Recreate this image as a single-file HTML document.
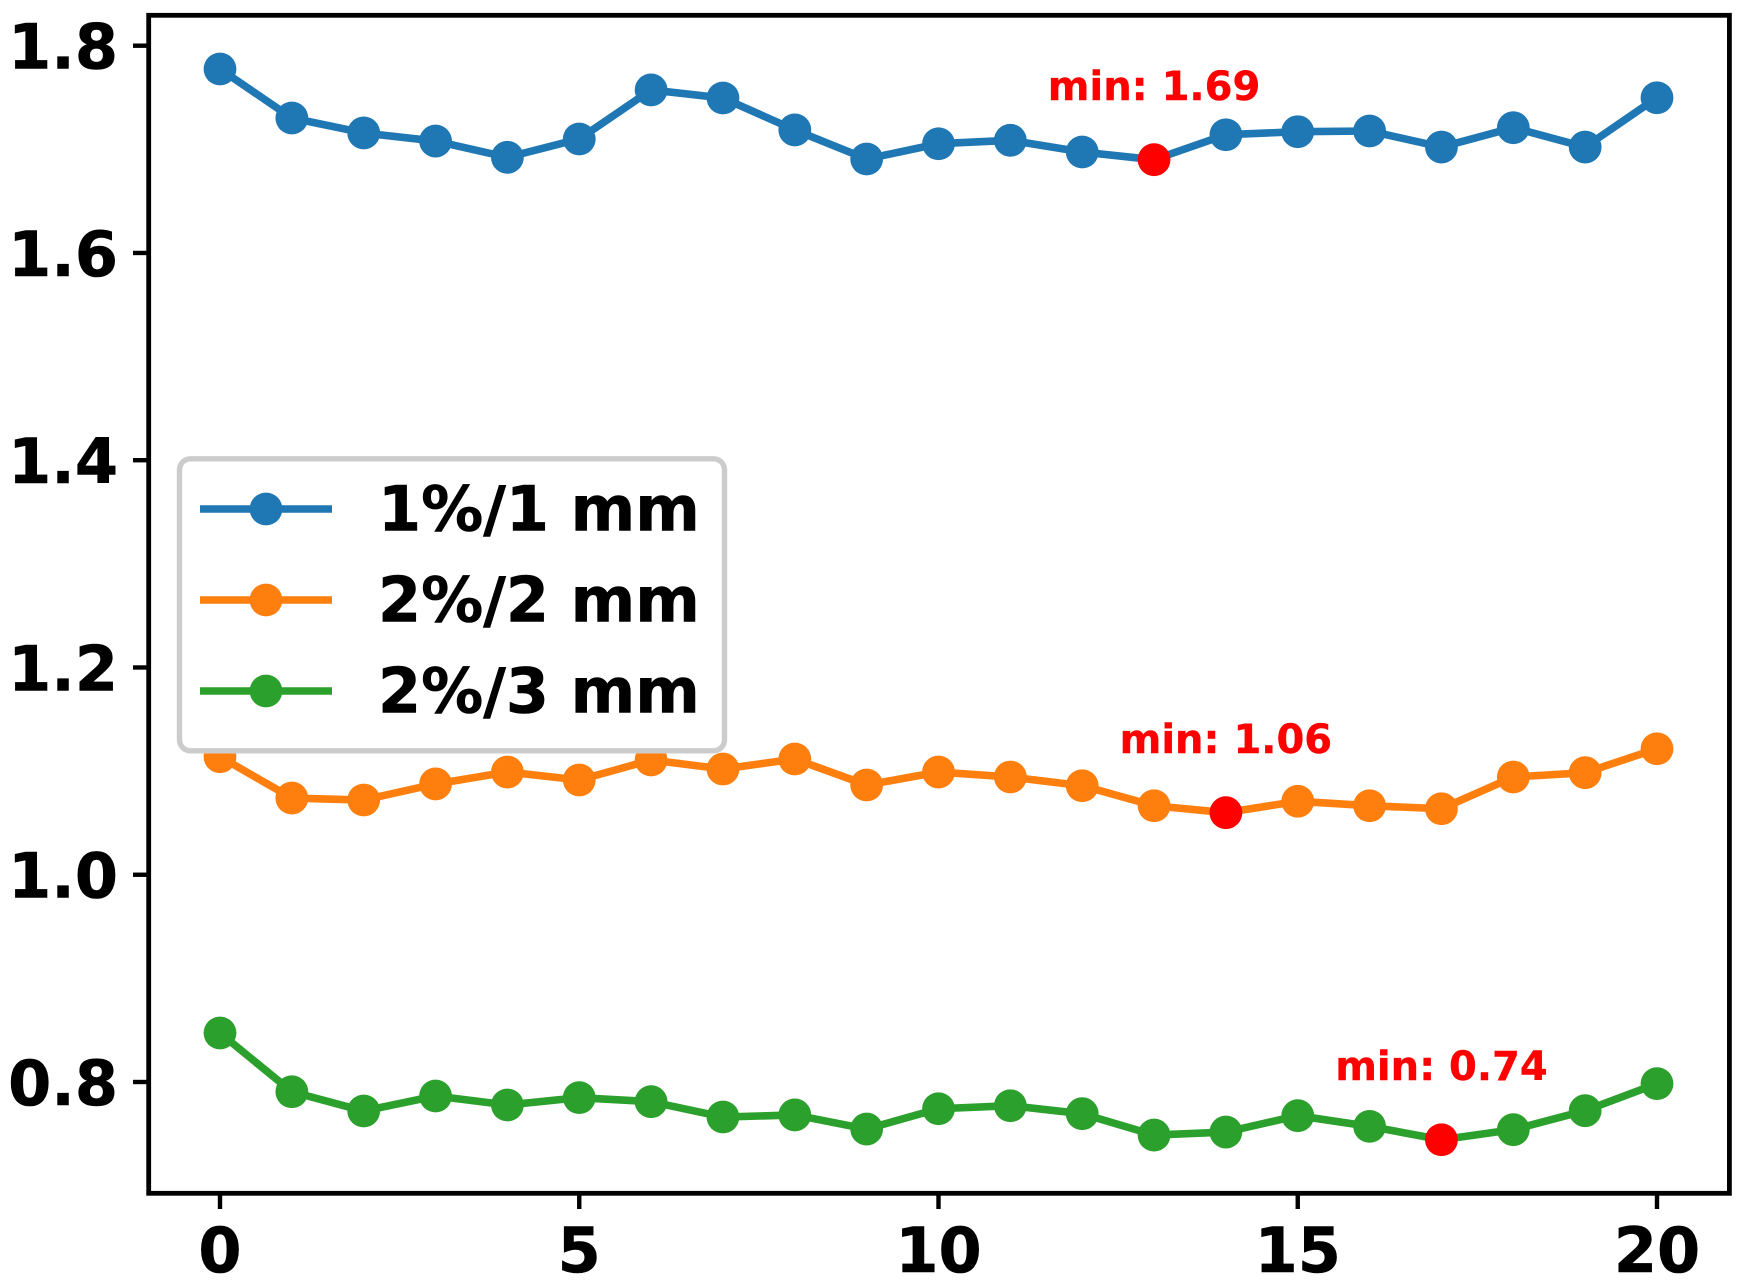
<!DOCTYPE html>
<html lang="en">
<head>
<meta charset="utf-8">
<title>Minimum values per epoch chart</title>
<style>
  html, body { margin: 0; padding: 0; background: #fff; }
  svg { display: block; font-family: "DejaVu Sans", "Liberation Sans", sans-serif; font-weight: bold; }
</style>
</head>
<body>
<svg id="chart" xmlns="http://www.w3.org/2000/svg" width="1753" height="1284" viewBox="0 0 1753 1284"></svg>
<script>
const categories = [0,1,2,3,4,5,6,7,8,9,10,11,12,13,14,15,16,17,18,19,20];
const series1Values = [1.7775,1.7302,1.7158,1.708,1.6923,1.71,1.7573,1.7495,1.7187,1.6907,1.7054,1.7087,1.6974,1.69,1.7141,1.717,1.7177,1.7022,1.7209,1.7022,1.7498];
const series2Values = [1.1139,1.074,1.0721,1.0876,1.0991,1.0914,1.1107,1.102,1.1117,1.0866,1.0991,1.0943,1.0859,1.0666,1.0599,1.0709,1.0666,1.0637,1.0943,1.0985,1.1216];
const series3Values = [0.8473,0.7906,0.772,0.7865,0.7778,0.7849,0.781,0.7662,0.7682,0.7546,0.7742,0.7771,0.7694,0.7488,0.7517,0.7675,0.7572,0.7443,0.754,0.7723,0.7984];
const seriesLabels = ["1%/1 mm","2%/2 mm","2%/3 mm"];
const xTickValues = [0,5,10,15,20];
const yTickValues = [0.8,1.0,1.2,1.4,1.6,1.8];

const NS = "http://www.w3.org/2000/svg";
const svg = document.getElementById("chart");
const seriesColors = ["#1f77b4","#ff7f0e","#2ca02c"];
const allSeries = [series1Values, series2Values, series3Values];
const LINE_W = 7.6, MARKER_R = 16.4;
const TICK_FONT = 62, NOTE_FONT = 40;

function xScale(v) { return 220 + 71.85 * v; }
function yScale(v) { return 45.7 + (1.8 - v) * 1036.3; }

function make(tag, attrs, parent, text) {
  const node = document.createElementNS(NS, tag);
  for (const k in attrs) node.setAttribute(k, attrs[k]);
  if (text !== undefined) node.textContent = text;
  (parent || svg).appendChild(node);
  return node;
}

const plotBg = make("rect", {x:148.7, y:15.3, width:1580.7, height:1178, fill:"#fff"});



allSeries.forEach(function (values, s) {
  const group = make("g", {});
  
  

  const pts = values.map(function (v, i) { return xScale(categories[i]).toFixed(2) + "," + yScale(v).toFixed(2); }).join(" ");
  const line = make("polyline", {points:pts, fill:"none", stroke:seriesColors[s], "stroke-width":LINE_W, "stroke-linejoin":"round"}, group);
  
  

  const minVal = Math.min.apply(null, values);
  const minIdx = values.indexOf(minVal);

  values.forEach(function (v, i) {
    const pt = make("circle", {cx:xScale(categories[i]), cy:yScale(v), r:MARKER_R, fill: i === minIdx ? "#ff0000" : seriesColors[s]}, group);
    
    
  });

  const note = make("text", {x:xScale(categories[minIdx]), y:yScale(minVal) - 59.7, fill:"#ff0000", stroke:"#ff0000", "stroke-width":0.4, "font-size":NOTE_FONT, "text-anchor":"middle"}, group, "min: " + minVal.toFixed(2));
  
  
});

/* axes frame */
const frame = make("rect", {x:148.7, y:15.3, width:1580.7, height:1178, fill:"none", stroke:"#000", "stroke-width":4.8});



xTickValues.forEach(function (v) {
  const tick = make("line", {x1:xScale(v), x2:xScale(v), y1:1193.3, y2:1209, stroke:"#000", "stroke-width":4.4});
  
  
  const label = make("text", {x:xScale(v), y:1272, "font-size":TICK_FONT, "text-anchor":"middle", fill:"#000", stroke:"#000", "stroke-width":0.6}, svg, String(v));
  
  
});

yTickValues.forEach(function (v) {
  const tick = make("line", {x1:133, x2:148.7, y1:yScale(v), y2:yScale(v), stroke:"#000", "stroke-width":4.4});
  
  
  const label = make("text", {x:118, y:yScale(v) + 23, "font-size":TICK_FONT, "text-anchor":"end", fill:"#000", stroke:"#000", "stroke-width":0.6}, svg, v.toFixed(1));
  
  
});

/* legend */
const legend = make("g", {});


const legendBox = make("rect", {x:179.5, y:458.8, width:545, height:292, rx:11, ry:11, fill:"#fff", stroke:"#cccccc", "stroke-width":5.4}, legend);



seriesLabels.forEach(function (name, s) {
  const rowY = 509 + 91 * s;
  const entry = make("g", {}, legend);
  
  
  const swatch = make("line", {x1:200, x2:332, y1:rowY, y2:rowY, stroke:seriesColors[s], "stroke-width":LINE_W}, entry);
  
  
  const dot = make("circle", {cx:266, cy:rowY, r:MARKER_R, fill:seriesColors[s]}, entry);
  
  
  const label = make("text", {x:378, y:rowY + 21.7, "font-size":TICK_FONT, fill:"#000", stroke:"#000", "stroke-width":0.6}, entry, name);
  
  
});
</script>
</body>
</html>
